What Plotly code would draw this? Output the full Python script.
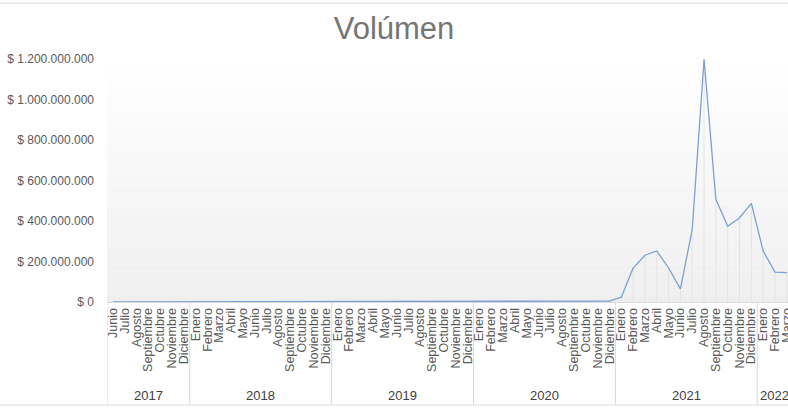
import plotly.graph_objects as go

# ---- data ----
month_names = ["Enero", "Febrero", "Marzo", "Abril", "Mayo", "Junio", "Julio",
               "Agosto", "Septiembre", "Octubre", "Noviembre", "Diciembre"]

year_labels = ["2017", "2018", "2019", "2020", "2021", "2022"]

months_2017 = month_names[5:]
values_2017 = [300000, 400000, 300000, 500000, 400000, 300000, 400000]

months_2018 = month_names
values_2018 = [300000, 400000, 300000, 400000, 300000, 500000,
               400000, 300000, 400000, 500000, 400000, 300000]

months_2019 = month_names
values_2019 = [400000, 300000, 500000, 400000, 300000, 400000,
               500000, 400000, 300000, 400000, 500000, 400000]

months_2020 = month_names
values_2020 = [500000, 400000, 600000, 500000, 700000, 800000,
               900000, 1200000, 3500000, 4000000, 3000000, 4500000]

months_2021 = month_names
values_2021 = [24000000, 168000000, 231000000, 252000000, 168000000, 65000000,
               358000000, 1198000000, 507000000, 374000000, 416000000, 487000000]

months_2022 = month_names[:3]
values_2022 = [252000000, 148000000, 145000000]

y_tick_values = [0, 200000000, 400000000, 600000000, 800000000, 1000000000, 1200000000]
y_tick_labels = ["$ 0", "$ 200.000.000", "$ 400.000.000", "$ 600.000.000",
                 "$ 800.000.000", "$ 1.000.000.000", "$ 1.200.000.000"]

month_groups = [months_2017, months_2018, months_2019, months_2020, months_2021, months_2022]
value_groups = [values_2017, values_2018, values_2019, values_2020, values_2021, values_2022]

months = [m for g in month_groups for m in g]
values = [v for g in value_groups for v in g]
xpos = list(range(len(values)))

# ---- figure ----
fig = go.Figure()

# drop lines (from each point down to the axis)
fig.add_trace(go.Scatter(
    x=xpos, y=values, mode="markers",
    marker=dict(size=1, color="rgba(0,0,0,0)"),
    error_y=dict(type="data", symmetric=False, array=[0] * len(values),
                 arrayminus=values, color="#e3e3e3", thickness=1, width=0),
    hoverinfo="skip", showlegend=False,
))

fig.add_trace(go.Scatter(
    x=xpos, y=values, mode="lines",
    line=dict(color="#7f9fd3", width=1.3),
    showlegend=False,
))

# vertical gradient background of the plot area
n_bands = 40
shapes = []
for i in range(n_bands):
    f = (i + 0.5) / n_bands  # 0 bottom -> 1 top
    g = int(round(239 + (255 - 239) * f))
    shapes.append(dict(type="rect", xref="paper", yref="paper",
                       x0=0, x1=1, y0=i / n_bands, y1=(i + 1) / n_bands,
                       fillcolor=f"rgb({g},{g},{g})", line=dict(width=0),
                       layer="below"))
# chart border lines (top / bottom)
shapes.append(dict(type="line", xref="paper", yref="paper", x0=-1, x1=2,
                   y0=1.23, y1=1.23, line=dict(color="#d9d9d9", width=1)))
shapes.append(dict(type="line", xref="paper", yref="paper", x0=-1, x1=2,
                   y0=-0.424, y1=-0.424, line=dict(color="#d9d9d9", width=1)))

# year group dividers and labels
annotations = []
start = 0
for yl, grp in zip(year_labels, month_groups):
    end = start + len(grp)
    shapes.append(dict(type="line", xref="x", yref="paper",
                       x0=start - 0.5, x1=start - 0.5, y0=0, y1=-0.424,
                       line=dict(color="#d9d9d9", width=1)))
    annotations.append(dict(text=yl, xref="x", yref="paper",
                            x=(start + end - 1) / 2, y=-0.385,
                            xanchor="center", yanchor="middle", showarrow=False,
                            font=dict(family="Liberation Sans", size=13, color="#404040")))
    start = end

fig.update_layout(
    width=788, height=408,
    margin=dict(l=107, r=0, t=59, b=106, autoexpand=False),
    paper_bgcolor="white", plot_bgcolor="white",
    title=dict(text="Volúmen", x=0.5, xref="container", xanchor="center",
               y=0.93, yref="container", yanchor="middle",
               font=dict(family="Liberation Sans", size=31, color="#757575")),
    font=dict(family="Liberation Sans", color="#595959"),
    shapes=shapes,
    annotations=annotations,
)

fig.update_xaxes(
    automargin=False,
    range=[-0.5, 57.1],
    tickmode="array", tickvals=xpos, ticktext=months,
    tickangle=-90,
    ticklabeloverflow="allow",
    tickfont=dict(family="Liberation Sans", size=12.5, color="#595959"),
    showgrid=False, zeroline=False,
    showline=True, linecolor="#d9d9d9", linewidth=1,
    ticks="",
)

fig.update_yaxes(
    automargin=False,
    range=[0, 1200000000],
    tickmode="array", tickvals=y_tick_values, ticktext=y_tick_labels,
    tickfont=dict(family="Liberation Sans", size=12, color="#595959"),
    showgrid=False, zeroline=False, showline=False, ticks="",
    ticklabelstandoff=12,
)

fig.write_html("out.html",
               config={"displayModeBar": False},
               post_script="document.body.style.margin='0';document.body.style.overflow='hidden';")
